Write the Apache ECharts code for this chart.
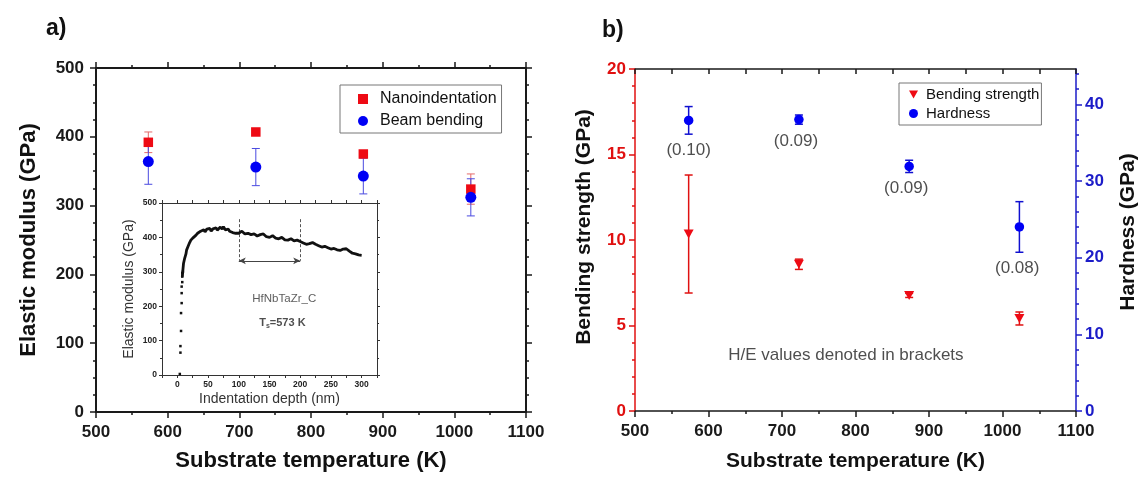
<!DOCTYPE html>
<html><head><meta charset="utf-8">
<script src="https://cdn.jsdelivr.net/npm/echarts@6/dist/echarts.min.js"></script>
<style>html,body{margin:0;padding:0;background:#fff}#c{width:1140px;height:477px}</style>
</head><body><div id="c"></div>
<script>
// ---------- data ----------
const temps = [573, 723, 873, 1023];
const nanoE = [392, 407, 375, 324];
const nanoErr = [15, 3, 5, 22];
const beamE = [364, 356, 343, 312];
const beamErr = [33, 27, 26, 27];

const bendStrength = [10.35, 8.58, 6.76, 5.41];
const bendErr = [3.45, 0.3, 0.12, 0.38];
const hardness = [37.9, 38.0, 31.9, 24.0];
const hardErr = [1.8, 0.6, 0.8, 3.3];
const heLabels = ['(0.10)', '(0.09)', '(0.09)', '(0.08)'];
const heLabelX = [573, 719, 869, 1020];
const heLabelY = [34.0, 35.2, 29.1, 18.6];
const noteText = 'H/E values denoted in brackets';
const notePos = [787, 3.24];

const insetScatterDepth = [4, 5, 5, 6, 6, 7, 7, 7, 8, 8, 8, 9];
const insetScatterModulus = [3, 65, 84, 128, 180, 209, 238, 257, 286, 296, 270, 300];
const insetDepth = [8, 10, 12, 14, 15, 17, 18, 20, 22, 25, 28, 30, 33, 35, 38, 40, 43, 45, 48, 50, 53, 55, 58, 60, 63, 65, 68, 70, 73, 75, 78, 80, 83, 85, 88, 90, 93, 95, 98, 100,
  105, 110, 115, 120, 125, 130, 135, 140, 145, 150, 155, 160, 165, 170, 175, 180, 185, 190, 195, 200,
  205, 210, 215, 220, 225, 230, 235, 240, 245, 250, 255, 260, 265, 270, 275, 280, 285, 290, 295, 300];
const insetModulus = [286, 324, 340, 352, 363, 372, 370, 385, 392, 398, 400, 406, 412, 410, 418, 415, 422, 416, 424, 420, 426, 418, 425, 424, 428, 421, 426, 430, 424, 431, 422, 420, 424, 418, 416, 414, 418, 412, 416, 412,
  418, 410, 412, 408, 410, 404, 408, 410, 402, 400, 405, 398, 396, 400, 393, 392, 396, 390, 392, 388,
  384, 380, 382, 385, 380, 376, 372, 374, 370, 366, 368, 364, 362, 366, 367, 360, 354, 352, 349, 348];
const insetMarkDepth = [100, 200];
const insetMarkTop = 453;
const insetMarkBottom = 332;
const insetNote1 = 'HfNbTaZr_C';
const insetNote1Pos = [174, 220];
const insetNote2Pos = [171, 152];

const hardTicks = [0, 10, 20, 30, 40];
const hardMinor = [2, 4, 6, 8, 12, 14, 16, 18, 22, 24, 26, 28, 32, 34, 36, 38, 42, 44];

// ---------- styling ----------
const FF = 'Liberation Sans, Arial, sans-serif';
const RED = '#ee0a14';
const BLUE = '#0000f5';
const AXRED = '#e01010';
const AXBLUE = '#1c1cc8';

function errBar(color, cap, width) {
  return function (params, api) {
    const x = api.value(0), lo = api.value(1), hi = api.value(2);
    const p1 = api.coord([x, lo]), p2 = api.coord([x, hi]);
    const st = { stroke: color, lineWidth: width };
    return { type: 'group', children: [
      { type: 'line', shape: { x1: p1[0], y1: p1[1], x2: p2[0], y2: p2[1] }, style: st },
      { type: 'line', shape: { x1: p1[0] - cap, y1: p1[1], x2: p1[0] + cap, y2: p1[1] }, style: st },
      { type: 'line', shape: { x1: p2[0] - cap, y1: p2[1], x2: p2[0] + cap, y2: p2[1] }, style: st }
    ] };
  };
}
const errData = (xs, vs, es) => xs.map((x, i) => [x, vs[i] - es[i], vs[i] + es[i]]);
const pts = (xs, ys) => xs.map((x, i) => [x, ys[i]]);
const plain = v => String(v);

function mainX(grid, pos, opts) {
  return Object.assign({
    type: 'value', gridIndex: grid, position: pos, min: 500, max: 1100, interval: 100,
    axisLine: { show: true, onZero: false, lineStyle: { color: '#1a1a1a', width: 2 } },
    axisTick: { show: true, inside: false, length: 6, lineStyle: { color: '#1a1a1a', width: 1.5 } },
    minorTick: { show: true, splitNumber: 2, length: 3, lineStyle: { color: '#1a1a1a', width: 1.5 } },
    axisLabel: { show: pos === 'bottom', margin: 12, formatter: plain, fontFamily: FF, fontWeight: 'bold', fontSize: 17, color: '#1a1a1a' },
    splitLine: { show: false }
  }, opts || {});
}

const opt = {
  animation: false,
  backgroundColor: '#fff',
  graphic: [
    { type: 'text', left: 46, top: 17, style: { text: 'a)', font: 'bold 23px ' + FF, fill: '#111' } },
    { type: 'text', left: 602, top: 19, style: { text: 'b)', font: 'bold 23px ' + FF, fill: '#111' } }
  ],
  grid: [
    { left: 96, top: 68, width: 430, height: 347 },
    { left: 162, top: 203, width: 215, height: 172, show: true, backgroundColor: '#fff', borderWidth: 0 },
    { left: 635, top: 69, width: 443, height: 346 }
  ],
  legend: [
    { left: 340, top: 85, orient: 'vertical', data: ['Nanoindentation', 'Beam bending'],
      itemWidth: 10, itemHeight: 10, itemGap: 4, padding: [5, 5, 3, 18],
      borderColor: '#777', borderWidth: 1, backgroundColor: '#fff',
      textStyle: { fontFamily: FF, fontSize: 16, color: '#111', lineHeight: 18, padding: [0, 0, 0, 7] } },
    { left: 899, top: 83, orient: 'vertical', data: ['Bending strength', 'Hardness'],
      itemWidth: 9, itemHeight: 9, itemGap: 2, padding: [3, 2, 3, 10],
      borderColor: '#777', borderWidth: 1, backgroundColor: '#fff',
      textStyle: { fontFamily: FF, fontSize: 15, color: '#111', lineHeight: 17, padding: [0, 0, 0, 3] } }
  ],
  xAxis: [
    mainX(0, 'bottom', { name: 'Substrate temperature (K)', nameLocation: 'middle', nameGap: 38,
      nameTextStyle: { fontFamily: FF, fontWeight: 'bold', fontSize: 22, color: '#111' } }),
    mainX(0, 'top'),
    { type: 'value', gridIndex: 1, position: 'bottom', min: -25, max: 325, interval: 25,
      axisLine: { show: true, onZero: false, lineStyle: { color: '#333', width: 1 } },
      axisTick: { show: true, length: 3, lineStyle: { color: '#333', width: 1 } },
      axisLabel: { margin: 5, fontFamily: FF, fontWeight: 'bold', fontSize: 8.5, color: '#222',
        formatter: v => (v >= 0 && v % 50 === 0) ? String(v) : '' },
      splitLine: { show: false },
      name: 'Indentation depth (nm)', nameLocation: 'middle', nameGap: 17,
      nameTextStyle: { fontFamily: FF, fontSize: 14, color: '#333' } },
    { type: 'value', gridIndex: 1, position: 'top', min: -25, max: 325, interval: 25,
      axisLine: { show: true, onZero: false, lineStyle: { color: '#333', width: 1 } },
      axisTick: { show: true, length: 3, lineStyle: { color: '#333', width: 1 } },
      axisLabel: { show: false }, splitLine: { show: false } },
    mainX(2, 'bottom', { name: 'Substrate temperature (K)', nameLocation: 'middle', nameGap: 40,
      axisLine: { show: true, onZero: false, lineStyle: { color: '#1a1a1a', width: 1.5 } },
      nameTextStyle: { fontFamily: FF, fontWeight: 'bold', fontSize: 21, color: '#111' } }),
    mainX(2, 'top', { interval: 50,
      axisLine: { show: true, onZero: false, lineStyle: { color: '#1a1a1a', width: 1.5 } },
      axisTick: { show: true, inside: true, length: 5, lineStyle: { color: '#1a1a1a', width: 1.5 } },
      minorTick: { show: false } })
  ],
  yAxis: [
    { type: 'value', gridIndex: 0, position: 'left', min: 0, max: 500, interval: 100,
      axisLine: { show: true, onZero: false, lineStyle: { color: '#1a1a1a', width: 2 } },
      axisTick: { show: true, length: 6, lineStyle: { color: '#1a1a1a', width: 1.5 } },
      minorTick: { show: true, splitNumber: 4, length: 3, lineStyle: { color: '#1a1a1a', width: 1.5 } },
      axisLabel: { margin: 12, fontFamily: FF, fontWeight: 'bold', fontSize: 17, color: '#1a1a1a' },
      splitLine: { show: false },
      name: 'Elastic modulus (GPa)', nameLocation: 'middle', nameGap: 56, nameRotate: 90,
      nameTextStyle: { fontFamily: FF, fontWeight: 'bold', fontSize: 22, color: '#111' } },
    { type: 'value', gridIndex: 0, position: 'right', min: 0, max: 500, interval: 100,
      axisLine: { show: true, onZero: false, lineStyle: { color: '#1a1a1a', width: 2 } },
      axisTick: { show: true, length: 6, lineStyle: { color: '#1a1a1a', width: 1.5 } },
      minorTick: { show: true, splitNumber: 4, length: 3, lineStyle: { color: '#1a1a1a', width: 1.5 } },
      axisLabel: { show: false }, splitLine: { show: false } },
    { type: 'value', gridIndex: 1, position: 'left', min: 0, max: 500, interval: 100,
      axisLine: { show: true, onZero: false, lineStyle: { color: '#333', width: 1 } },
      axisTick: { show: true, length: 3, lineStyle: { color: '#333', width: 1 } },
      minorTick: { show: true, splitNumber: 2, length: 2, lineStyle: { color: '#333', width: 1 } },
      axisLabel: { margin: 5, fontFamily: FF, fontWeight: 'bold', fontSize: 8.5, color: '#222' },
      splitLine: { show: false },
      name: 'Elastic modulus (GPa)', nameLocation: 'middle', nameGap: 26, nameRotate: 90,
      nameTextStyle: { fontFamily: FF, fontSize: 14, color: '#333' } },
    { type: 'value', gridIndex: 1, position: 'right', min: 0, max: 500, interval: 100,
      axisLine: { show: true, onZero: false, lineStyle: { color: '#333', width: 1 } },
      axisTick: { show: true, length: 3, lineStyle: { color: '#333', width: 1 } },
      minorTick: { show: true, splitNumber: 2, length: 2, lineStyle: { color: '#333', width: 1 } },
      axisLabel: { show: false }, splitLine: { show: false } },
    { type: 'value', gridIndex: 2, position: 'left', min: 0, max: 20, interval: 5,
      axisLine: { show: true, onZero: false, lineStyle: { color: AXRED, width: 1.5 } },
      axisTick: { show: true, length: 6, lineStyle: { color: AXRED, width: 1.5 } },
      minorTick: { show: true, splitNumber: 5, length: 3, lineStyle: { color: AXRED, width: 1.5 } },
      axisLabel: { margin: 9, fontFamily: FF, fontWeight: 'bold', fontSize: 17, color: AXRED },
      splitLine: { show: false },
      name: 'Bending strength (GPa)', nameLocation: 'middle', nameGap: 40, nameRotate: 90,
      nameTextStyle: { fontFamily: FF, fontWeight: 'bold', fontSize: 21, color: '#111', padding: [0, 0, 0, 26] } },
    { type: 'value', gridIndex: 2, position: 'right', min: 0, max: 44.6, interval: 10,
      axisLine: { show: true, onZero: false, lineStyle: { color: AXBLUE, width: 1.5 } },
      axisTick: { show: true, length: 6, customValues: hardTicks, lineStyle: { color: AXBLUE, width: 1.5 } },
      axisLabel: { margin: 9, customValues: hardTicks, fontFamily: FF, fontWeight: 'bold', fontSize: 17, color: AXBLUE },
      splitLine: { show: false },
      name: 'Hardness (GPa)', nameLocation: 'middle', nameGap: 42, nameRotate: 90,
      nameTextStyle: { fontFamily: FF, fontWeight: 'bold', fontSize: 21, color: '#111', padding: [0, 0, 0, 16] } },
    { type: 'value', gridIndex: 2, position: 'right', min: 0, max: 44.6, interval: 2,
      axisLine: { show: false },
      axisTick: { show: true, length: 3, customValues: hardMinor, lineStyle: { color: AXBLUE, width: 1.5 } },
      axisLabel: { show: false }, splitLine: { show: false } }
  ],
  series: [
    // left panel
    { type: 'custom', name: 'nanoErr', xAxisIndex: 0, yAxisIndex: 0, silent: true, z: 2,
      renderItem: errBar('#e56a6a', 4, 1), encode: { x: 0, y: [1, 2] }, data: errData(temps, nanoE, nanoErr) },
    { type: 'custom', name: 'beamErr', xAxisIndex: 0, yAxisIndex: 0, silent: true, z: 2,
      renderItem: errBar('#4a4ae0', 4, 1), encode: { x: 0, y: [1, 2] }, data: errData(temps, beamE, beamErr) },
    { type: 'scatter', name: 'Nanoindentation', xAxisIndex: 0, yAxisIndex: 0, silent: true, z: 3,
      symbol: 'rect', symbolSize: 9.5, itemStyle: { color: RED, opacity: 1 }, data: pts(temps, nanoE) },
    { type: 'scatter', name: 'Beam bending', xAxisIndex: 0, yAxisIndex: 0, silent: true, z: 4,
      symbol: 'circle', symbolSize: 11, itemStyle: { color: BLUE, opacity: 1 }, data: pts(temps, beamE) },
    // inset
    { type: 'scatter', name: 'insetPts', xAxisIndex: 2, yAxisIndex: 2, silent: true, z: 5,
      symbol: 'rect', symbolSize: 2.5, itemStyle: { color: '#111', opacity: 1 }, data: pts(insetScatterDepth, insetScatterModulus),
      markLine: { silent: true, symbol: ['arrow', 'arrow'], symbolSize: [5, 7], label: { show: false },
        lineStyle: { color: '#444', width: 1, type: 'solid' },
        data: [[{ coord: [insetMarkDepth[0], insetMarkBottom] }, { coord: [insetMarkDepth[1], insetMarkBottom] }]] } },
    { type: 'line', name: 'insetCurve', xAxisIndex: 2, yAxisIndex: 2, silent: true, z: 5,
      showSymbol: false, symbol: 'none', lineStyle: { color: '#111', width: 2.8 }, data: pts(insetDepth, insetModulus),
      markLine: { silent: true, symbol: ['none', 'none'], label: { show: false },
        lineStyle: { color: '#555', width: 1, type: [3, 2] },
        data: insetMarkDepth.map(d => [{ coord: [d, insetMarkTop] }, { coord: [d, insetMarkBottom] }]) } },
    { type: 'scatter', name: 'insetText', xAxisIndex: 2, yAxisIndex: 2, silent: true, z: 6,
      symbolSize: 0, data: [insetNote1Pos, insetNote2Pos],
      label: { show: true, position: 'inside', fontFamily: FF, color: '#333',
        formatter: p => p.dataIndex === 0 ? insetNote1 : '{b|T}{s|s}{b|=573 K}',
        fontSize: 11.5,
        rich: { b: { fontFamily: FF, fontWeight: 'bold', fontSize: 11, color: '#222' },
                s: { fontFamily: FF, fontWeight: 'bold', fontSize: 7, color: '#222', verticalAlign: 'bottom', padding: [6, 0, 0, 0] } } } },
    // right panel
    { type: 'custom', name: 'bendErr', xAxisIndex: 4, yAxisIndex: 4, silent: true, z: 2,
      renderItem: errBar('#e01010', 4, 1.5), encode: { x: 0, y: [1, 2] }, data: errData(temps, bendStrength, bendErr) },
    { type: 'custom', name: 'hardErr', xAxisIndex: 4, yAxisIndex: 5, silent: true, z: 2,
      renderItem: errBar('#1010d0', 4, 1.5), encode: { x: 0, y: [1, 2] }, data: errData(temps, hardness, hardErr) },
    { type: 'scatter', name: 'Bending strength', xAxisIndex: 4, yAxisIndex: 4, silent: true, z: 3,
      symbol: 'path://M0,0 L10,0 L5,9 Z', symbolSize: [10, 9], itemStyle: { color: RED, opacity: 1 }, data: pts(temps, bendStrength) },
    { type: 'scatter', name: 'Hardness', xAxisIndex: 4, yAxisIndex: 5, silent: true, z: 3,
      symbol: 'circle', symbolSize: 9.5, itemStyle: { color: BLUE, opacity: 1 }, data: pts(temps, hardness) },
    { type: 'scatter', name: 'heText', xAxisIndex: 4, yAxisIndex: 5, silent: true, z: 6,
      symbolSize: 0, data: pts(heLabelX, heLabelY),
      label: { show: true, position: 'inside', fontFamily: FF, fontSize: 17, color: '#222',
        formatter: p => heLabels[p.dataIndex] } },
    { type: 'scatter', name: 'noteText', xAxisIndex: 4, yAxisIndex: 4, silent: true, z: 6,
      symbolSize: 0, data: [notePos],
      label: { show: true, position: 'inside', fontFamily: FF, fontSize: 17, color: '#222', formatter: () => noteText } }
  ]
};

const chart = echarts.init(document.getElementById('c'), null, { renderer: 'canvas' });
chart.setOption(opt);
</script>
</body></html>
